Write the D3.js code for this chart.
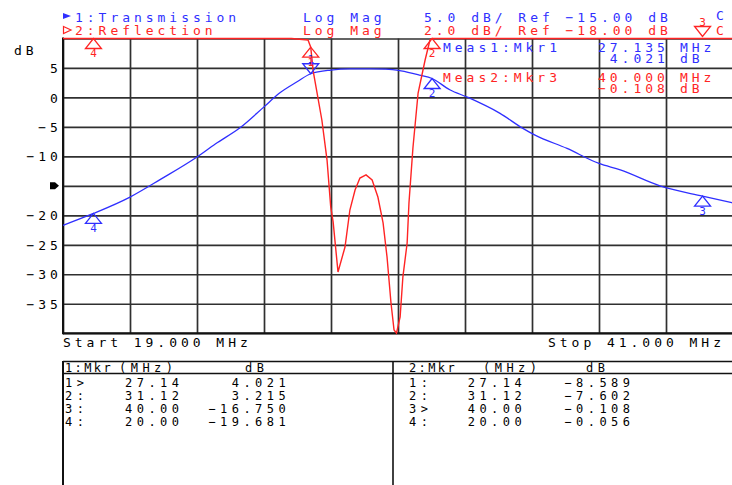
<!DOCTYPE html>
<html><head><meta charset="utf-8">
<script src="https://cdn.jsdelivr.net/npm/d3@7"></script>
<style>html,body{margin:0;padding:0;background:#fff;}svg{display:block;}</style>
</head><body>
<script>
// ---------------- data ----------------
const freqStart = 19, freqStop = 41;
const xGridValues = [19, 21.2, 23.4, 25.6, 27.8, 30, 32.2, 34.4, 36.6, 38.8, 41];
const yGridValues = [10, 5, 0, -5, -10, -15, -20, -25, -30, -35, -40];
const yTickLabels = [5, 0, -5, -10, -20, -25, -30, -35];
const refLevel = -15;

// Channel 1: Transmission (5 dB/div, ref -15 dB)
const transFreq = [19, 20, 21.2, 22.2, 23.4, 24.0, 24.8, 25.6, 26.1, 26.7, 27.135, 27.8, 28.4, 29.1, 29.6, 30.1, 30.7, 31.12, 31.7, 32.3, 33.35, 34.1, 34.5, 35.55, 36.6, 37.3, 38.6, 40, 41];
const transDb   = [-21.7, -19.681, -16.9, -13.9, -10.1, -7.9, -5.2, -1.6, 0.7, 2.7, 4.021, 4.65, 4.85, 4.85, 4.8, 4.5, 3.8, 3.215, 1.3, 0.0, -2.7, -5.25, -6.4, -8.65, -11.2, -12.3, -15.0, -16.75, -17.9];

// Channel 2: Reflection (2 dB/div, ref -18 dB)
const reflFreq = [19, 20, 22, 24, 25.5, 26.5, 27.045, 27.135, 27.21, 27.50, 27.67, 27.79, 27.87, 28.03, 28.26, 28.42, 28.59, 28.75, 28.95, 29.15, 29.34, 29.51, 29.64, 29.77, 29.87, 29.95, 30.07, 30.16, 30.30, 30.36, 30.49, 30.66, 30.89, 31.05, 31.12, 32, 34, 36, 38, 40, 41];
const reflDb   = [-0.05, -0.056, -0.1, -0.4, -1.5, -4.0, -8.1, -8.589, -10.14, -13.53, -16.25, -19.42, -20.45, -23.85, -22.15, -19.64, -18.28, -17.47, -17.26, -17.60, -18.76, -20.52, -22.83, -25.95, -27.78, -29.5, -26.90, -24.19, -21.88, -19.16, -15.43, -11.70, -9.46, -8.10, -7.602, -4.5, -1.8, -0.7, -0.3, -0.108, -0.09];

// Markers
const markerFreq = [27.135, 31.12, 40.00, 20.00];
const markerFreqText = ["27.14", "31.12", "40.00", "20.00"];
const markerLabels1 = ["1>", "2:", "3:", "4:"];
const markerLabels2 = ["1:", "2:", "3>", "4:"];
const markerDb1 = ["4.021", "3.215", "−16.750", "−19.681"];
const markerDb2 = ["−8.589", "−7.602", "−0.108", "−0.056"];
const markerVal1 = [4.021, 3.215, -16.750, -19.681];
const markerVal2 = [-8.589, -7.602, -0.108, -0.056];
const activeMarker1 = 0, activeMarker2 = 2;

// ---------------- drawing ----------------
const W = 732, H = 485;
const L = 63, R = 733, T = 38.5, B = 333.2;
const BLUE = "#2f2fff", RED = "#ff2424", GRID = "#303030";
const FONT = "'DejaVu Sans Mono', 'Liberation Mono', monospace";
const ADV = 0.602;

const svg = d3.select("body").append("svg").attr("width", W).attr("height", H);
svg.append("rect").attr("width", W).attr("height", H).attr("fill", "#fff");

const x = d3.scaleLinear().domain([freqStart, freqStop]).range([L, R]);
const yT = d3.scaleLinear().domain([-40, 10]).range([B, T]).clamp(true);
const yR = d3.scaleLinear().domain([-28, -8]).range([B, T]).clamp(true);

function txt(g, px, py, s, color, size, pitch) {
  size = size || 13; pitch = pitch || 11.8;
  return g.append("text").attr("x", px).attr("y", py)
    .attr("font-family", FONT).attr("font-size", size)
    .attr("letter-spacing", (pitch - ADV * size).toFixed(2))
    .attr("fill", color).style("white-space", "pre").text(s);
}
function txtRight(g, endX, py, s, color, size, pitch) {
  size = size || 13; pitch = pitch || 11.8;
  return txt(g, endX - s.length * pitch, py, s, color, size, pitch);
}

// grid (horizontal) with tick labels
const fmt = v => (v < 0 ? "−" + Math.abs(v) : String(v));
const gy = svg.append("g").attr("transform", `translate(${L},0)`)
  .call(d3.axisLeft(yT).tickValues(yGridValues).tickSize(-(R - L))
    .tickFormat(v => yTickLabels.includes(v) ? fmt(v) : ""));
gy.select(".domain").remove();
gy.selectAll("line").attr("stroke", GRID).attr("stroke-width", 1.7);
gy.selectAll("text")
  .attr("font-family", FONT).attr("font-size", 13)
  .attr("letter-spacing", (11.8 - ADV * 13).toFixed(2))
  .attr("fill", "#000").attr("text-anchor", "start").attr("dy", null)
  .attr("y", 4.6)
  .attr("x", function(v) { const s = this.textContent; return (57.8 - (s.length - 1) * 11.8 - ADV * 13) - L; });

// grid (vertical)
const gx = svg.append("g").attr("transform", `translate(0,${B})`)
  .call(d3.axisBottom(x).tickValues(xGridValues).tickSize(-(B - T)).tickFormat(""));
gx.select(".domain").remove();
gx.selectAll("line").attr("stroke", GRID).attr("stroke-width", 1.7);
svg.append("line").attr("x1", L).attr("x2", L).attr("y1", T - 1).attr("y2", B + 1)
  .attr("stroke", "#111").attr("stroke-width", 2);
svg.append("line").attr("x1", L).attr("x2", W).attr("y1", B).attr("y2", B)
  .attr("stroke", "#111").attr("stroke-width", 2);

// axis annotations
txt(svg, 14, 55, "dB", "#000");
const yr = yT(refLevel);
svg.append("path").attr("d", `M50,${yr - 3.5} L55,${yr - 3.5} L59,${yr} L55,${yr + 3.5} L50,${yr + 3.5} Z`).attr("fill", "#000");

// traces
const transData = transFreq.map((f, i) => ({ f, v: transDb[i] }));
const reflData = reflFreq.map((f, i) => ({ f, v: reflDb[i] }));
svg.append("path").datum(transData)
  .attr("d", d3.line().x(d => x(d.f)).y(d => yT(d.v)).curve(d3.curveMonotoneX))
  .attr("fill", "none").attr("stroke", BLUE).attr("stroke-width", 1.3);
svg.append("path").datum(reflData)
  .attr("d", d3.line().x(d => x(d.f)).y(d => yR(d.v)))
  .attr("fill", "none").attr("stroke", RED).attr("stroke-width", 1.4);

// markers
function drawMarker(mx, my, num, color, active) {
  const g = svg.append("g");
  if (active) {
    g.append("path").attr("d", `M${mx},${my} L${mx - 8},${my - 10} L${mx + 8},${my - 10} Z`)
      .attr("fill", "none").attr("stroke", color).attr("stroke-width", 1.3);
    g.append("text").attr("x", mx).attr("y", my - 11).attr("text-anchor", "middle")
      .attr("font-family", FONT).attr("font-size", 11).attr("fill", color).text(num);
  } else {
    g.append("path").attr("d", `M${mx},${my} L${mx - 8},${my + 10} L${mx + 8},${my + 10} Z`)
      .attr("fill", "none").attr("stroke", color).attr("stroke-width", 1.3);
    g.append("text").attr("x", mx).attr("y", my + 18.5).attr("text-anchor", "middle")
      .attr("font-family", FONT).attr("font-size", 11).attr("fill", color).text(num);
  }
}
markerFreq.forEach((f, i) => drawMarker(x(f), yT(markerVal1[i]), String(i + 1), BLUE, i === activeMarker1));
markerFreq.forEach((f, i) => drawMarker(x(f), yR(markerVal2[i]) - (i === activeMarker2 ? 2 : 0), String(i + 1), RED, i === activeMarker2));

// header
svg.append("path").attr("d", "M63,13 L71,16 L63,19 Z").attr("fill", BLUE);
txt(svg, 75, 22, "1:Transmission", BLUE);
txt(svg, 303, 22, "Log Mag", BLUE);
txt(svg, 424, 22, "5.0 dB/ Ref −15.00 dB", BLUE);
svg.append("path").attr("d", "M63.5,26.5 L71,30 L63.5,33.5 Z").attr("fill", "none").attr("stroke", RED).attr("stroke-width", 1.2);
txt(svg, 75, 35, "2:Reflection", RED);
txt(svg, 303, 35, "Log Mag", RED);
txt(svg, 424, 35, "2.0 dB/ Ref −18.00 dB", RED);
txt(svg, 716, 20, "C", BLUE);
txt(svg, 716, 35, "C", RED);

// marker readouts
txt(svg, 443, 51.5, "Meas1:Mkr1", BLUE);
txtRight(svg, 668.8, 51.5, "27.135", BLUE);
txt(svg, 680, 51.5, "MHz", BLUE);
txtRight(svg, 668.8, 63.3, "4.021", BLUE);
txt(svg, 680, 63.3, "dB", BLUE);
txt(svg, 443, 81.7, "Meas2:Mkr3", RED);
txtRight(svg, 668.8, 81.7, "40.000", RED);
txt(svg, 680, 81.7, "MHz", RED);
txtRight(svg, 668.8, 93.3, markerDb2[activeMarker2], RED);
txt(svg, 680, 93.3, "dB", RED);

// start / stop
txt(svg, 63, 347, "Start " + freqStart.toFixed(3) + " MHz", "#000");
txt(svg, 548, 347, "Stop " + freqStop.toFixed(3) + " MHz", "#000");

// table
const tb = svg.append("g");
tb.append("line").attr("x1", L).attr("x2", W).attr("y1", 361.5).attr("y2", 361.5).attr("stroke", "#111").attr("stroke-width", 1.6);
tb.append("line").attr("x1", L).attr("x2", W).attr("y1", 373.5).attr("y2", 373.5).attr("stroke", "#111").attr("stroke-width", 1.4);
tb.append("line").attr("x1", L).attr("x2", L).attr("y1", 361).attr("y2", H).attr("stroke", "#111").attr("stroke-width", 2);
tb.append("line").attr("x1", 393).attr("x2", 393).attr("y1", 361).attr("y2", H).attr("stroke", "#111").attr("stroke-width", 1.6);
const TS = 12, TP = 11.7;
txt(tb, 65, 372, "1:Mkr", "#000", TS, 9.6);
txt(tb, 119, 372, "(MHz)", "#000", TS, TP);
txt(tb, 245, 372, "dB", "#000", TS, TP);
txt(tb, 409, 372, "2:Mkr", "#000", TS, 9.6);
txt(tb, 483, 372, "(MHz)", "#000", TS, TP);
txt(tb, 586, 372, "dB", "#000", TS, TP);
markerLabels1.forEach((lab, i) => {
  const by = 386.8 + 12.9 * i;
  txt(tb, 65, by, lab, "#000", TS, TP);
  txt(tb, 125, by, markerFreqText[i], "#000", TS, TP);
  txtRight(tb, 290.2, by, markerDb1[i], "#000", TS, TP);
  txt(tb, 409, by, markerLabels2[i], "#000", TS, TP);
  txt(tb, 467.7, by, markerFreqText[i], "#000", TS, TP);
  txtRight(tb, 634.5, by, markerDb2[i], "#000", TS, TP);
});
</script>
</body></html>
